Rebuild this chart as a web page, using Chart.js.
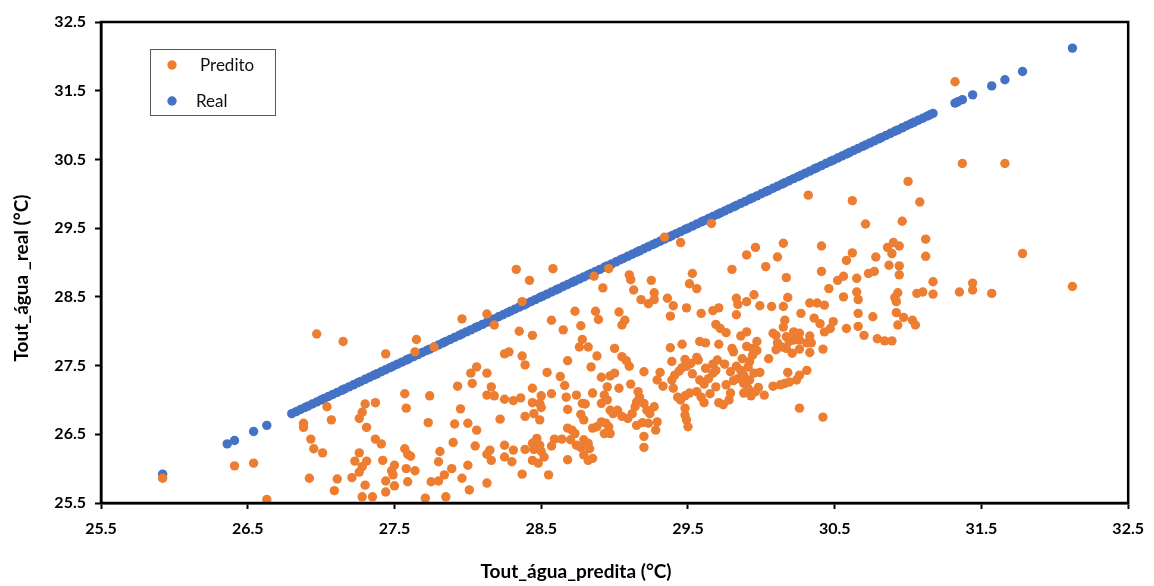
<!DOCTYPE html>
<html>
<head>
<meta charset="utf-8">
<script src="https://cdn.jsdelivr.net/npm/chart.js@4.4.1/dist/chart.umd.min.js"></script>
<style>
  html, body { margin: 0; padding: 0; background: #fff; }
  #wrap { width: 1154px; height: 586px; }
</style>
</head>
<body>
<div id="wrap"><canvas id="scatterChart"></canvas></div>
<script>
// axis ticks (same on both axes)
const tickValues = [25.5, 26.5, 27.5, 28.5, 29.5, 30.5, 31.5, 32.5];
const xTitle = 'Tout_água_predita (°C)';
const yTitle = 'Tout_água _real (°C)';

// "Real" series sits on the diagonal (real vs real)
const realValues = [
  25.92, 26.36, 26.41, 26.54, 26.63,
  26.80, 26.83, 26.86, 26.89, 26.91, 26.94, 26.97, 27.00, 27.02, 27.05, 27.08, 27.11, 27.14, 27.16, 27.19,
  27.22, 27.25, 27.27, 27.30, 27.33, 27.36, 27.38, 27.41, 27.44, 27.47, 27.49, 27.52, 27.55, 27.58, 27.60,
  27.63, 27.66, 27.69, 27.72, 27.74, 27.77, 27.80, 27.83, 27.85, 27.88, 27.91, 27.94, 27.96, 27.99, 28.02,
  28.05, 28.07, 28.10, 28.13, 28.16, 28.18, 28.21, 28.24, 28.27, 28.29, 28.32, 28.35, 28.38, 28.40, 28.43,
  28.46, 28.49, 28.51, 28.54, 28.57, 28.60, 28.62, 28.65, 28.68, 28.71, 28.73, 28.76, 28.79, 28.82, 28.84,
  28.87, 28.90, 28.93, 28.95, 28.98, 29.01, 29.04, 29.06, 29.09, 29.12, 29.15, 29.17, 29.20, 29.23, 29.26,
  29.28, 29.31, 29.34, 29.37, 29.39, 29.42, 29.45, 29.48, 29.50, 29.53, 29.56, 29.59, 29.61, 29.64, 29.67,
  29.70, 29.72, 29.75, 29.78, 29.81, 29.83, 29.86, 29.89, 29.92, 29.94, 29.97, 30.00, 30.03, 30.05, 30.08,
  30.11, 30.14, 30.16, 30.19, 30.22, 30.25, 30.27, 30.30, 30.33, 30.36, 30.38, 30.41, 30.44, 30.47, 30.49,
  30.52, 30.55, 30.58, 30.60, 30.63, 30.66, 30.69, 30.71, 30.74, 30.77, 30.80, 30.82, 30.85, 30.88, 30.91,
  30.93, 30.96, 30.99, 31.02, 31.04, 31.07, 31.10, 31.13, 31.15, 31.17,
  31.32, 31.34, 31.37, 31.44, 31.57, 31.66, 31.78, 32.12
];

// "Predito" points [x, y]
const preditoPoints = [
  // left part
  [25.92,25.86],[26.41,26.04],[26.54,26.08],[26.63,25.55],[26.97,27.96],[27.15,27.85],[27.44,27.67],[27.04,26.90],
  [27.07,26.71],[26.88,26.66],[26.88,26.60],[26.93,26.43],[26.95,26.29],[27.01,26.23],[27.30,26.94],[27.37,26.96],
  [27.28,26.82],[27.26,26.73],[27.31,26.60],[27.37,26.43],[27.41,26.36],[27.26,26.23],[27.23,26.11],[27.31,26.11],
  [27.28,26.03],[27.26,25.95],[27.42,26.12],[26.92,25.86],[27.11,25.85],[27.21,25.87],[27.09,25.68],[27.30,25.76],
  [27.28,25.59],[27.35,25.59],
  // 27.5 - 28.6
  [28.33,28.90],[28.58,28.91],[28.42,28.74],[28.37,28.43],[27.96,28.18],[28.13,28.25],[28.18,28.09],[27.65,27.88],
  [27.64,27.70],[27.77,27.77],[28.35,28.00],[28.44,27.94],[28.57,28.16],[28.25,27.67],[28.28,27.70],[28.37,27.64],
  [28.39,27.51],[28.06,27.48],[28.02,27.39],[28.03,27.24],[28.13,27.39],[27.93,27.20],[28.16,27.19],[28.13,27.07],
  [28.18,27.06],[27.57,27.09],[27.58,26.88],[27.74,27.06],[27.95,26.87],[28.25,27.01],[28.31,26.99],[28.36,27.03],
  [28.44,26.96],[28.50,27.06],[28.49,26.95],[28.50,26.89],[28.54,27.40],[28.57,27.09],[28.44,27.17],[28.22,26.72],
  [27.73,26.67],[27.91,26.65],[28.00,26.66],[28.06,26.56],[28.39,26.76],[28.45,26.80],[28.49,26.71],[28.47,26.44],
  [28.49,26.34],[28.45,26.28],[28.50,26.25],[28.52,26.17],[28.44,26.12],[28.48,26.08],[28.39,26.28],[28.44,26.37],
  [28.25,26.34],[28.25,26.17],[28.30,26.10],[28.31,26.27],[28.15,26.27],[28.13,26.21],[28.16,26.12],[28.05,26.33],
  [27.90,26.38],[27.81,26.25],[27.80,26.10],[27.84,25.91],[27.89,26.00],[28.00,26.05],[27.96,25.86],[28.01,25.69],
  [27.57,26.29],[27.59,26.21],[27.61,26.18],[27.50,26.05],[27.48,25.97],[27.49,25.91],[27.58,26.00],[27.64,25.97],
  [27.59,25.81],[27.44,25.82],[27.44,25.66],[27.50,25.75],[27.75,25.81],[27.80,25.82],[27.71,25.57],[27.85,25.59],
  [28.13,25.79],[28.37,25.92],[28.55,25.91],[28.57,26.33],[28.59,26.43],
  // 28.6 - 29.2
  [28.86,28.80],[28.96,28.91],[28.92,28.63],[29.10,28.82],[29.11,28.75],[29.13,28.60],[29.18,28.46],[28.73,28.29],
  [28.87,28.29],[28.89,28.17],[29.03,28.28],[29.07,28.16],[29.05,28.09],[28.65,28.02],[28.77,28.08],[28.78,27.88],
  [28.76,27.77],[28.82,27.77],[28.68,27.57],[28.88,27.64],[29.00,27.75],[29.05,27.63],[29.08,27.57],[29.10,27.49],
  [28.84,27.48],[28.63,27.34],[28.66,27.21],[28.67,27.04],[28.68,26.86],[28.74,27.07],[28.78,26.95],[28.80,26.94],
  [28.77,26.79],[28.79,26.71],[28.85,27.10],[28.91,27.33],[28.97,27.35],[29.00,27.39],[28.95,27.19],[28.93,27.07],
  [28.95,27.00],[28.91,26.95],[28.97,26.85],[28.99,26.80],[29.03,27.17],[29.02,26.85],[29.05,26.76],[29.09,26.73],
  [29.12,26.80],[29.14,26.90],[29.11,27.23],[29.16,27.12],[29.15,26.97],[29.17,27.04],[29.20,27.41],[29.20,26.95],
  [29.15,26.63],[29.19,26.67],[28.85,26.59],[28.88,26.61],[28.91,26.68],[28.94,26.66],[28.96,26.61],[28.97,26.51],
  [28.93,26.51],[28.68,26.59],[28.71,26.56],[28.73,26.51],[28.70,26.42],[28.64,26.43],[28.74,26.34],[28.77,26.31],
  [28.79,26.42],[28.82,26.37],[28.83,26.29],[28.79,26.20],[28.82,26.12],[28.85,26.15],[28.68,26.13],
  // 29.2 - 30.8
  [29.22,26.85],[29.24,26.80],[29.27,26.90],[29.23,26.66],[29.29,26.68],[29.28,26.56],[29.20,26.47],[29.20,26.31],
  [29.29,27.29],[29.33,27.20],[29.31,27.40],[29.39,27.29],[29.41,27.36],[29.44,27.42],[29.46,27.47],[29.49,27.49],
  [29.52,27.53],[29.40,27.17],[29.43,27.04],[29.45,27.00],[29.48,27.06],[29.51,27.10],[29.48,26.88],[29.48,26.78],
  [29.49,26.71],[29.50,26.61],[29.53,27.38],[29.58,27.29],[29.61,27.23],[29.64,27.31],[29.67,27.39],[29.56,27.12],
  [29.59,27.04],[29.61,26.96],[29.65,27.09],[29.69,27.19],[29.71,26.96],[29.74,26.93],[29.78,27.00],[29.79,27.10],
  [29.76,27.22],[29.81,27.28],[29.84,27.31],[29.88,27.24],[29.91,27.17],[29.92,27.29],[29.95,27.39],[29.67,27.52],
  [29.75,27.52],[29.88,27.10],[29.96,27.12],
  [29.34,29.37],[29.45,29.29],[29.66,29.57],[30.32,29.98],[30.62,29.90],[30.15,29.28],[30.41,29.24],[29.96,29.22],
  [29.90,29.11],[30.11,29.08],[30.62,29.14],[30.58,29.03],[29.80,28.90],[30.03,28.94],[30.17,28.78],[30.41,28.87],
  [30.52,28.74],[30.56,28.80],[30.65,28.77],[30.73,28.84],[30.77,28.87],[29.53,28.84],[29.51,28.69],[29.56,28.62],
  [29.25,28.74],[29.27,28.56],[29.23,28.40],[29.27,28.46],[29.36,28.48],[29.40,28.37],[29.38,28.22],[29.49,28.34],
  [29.59,28.26],[29.67,28.30],[29.71,28.34],[29.83,28.48],[29.84,28.39],[29.90,28.43],[29.95,28.53],[29.83,28.24],
  [29.99,28.37],[30.07,28.36],[30.15,28.36],[30.18,28.49],[30.27,28.26],[30.33,28.41],[30.38,28.41],[30.43,28.38],
  [30.36,28.19],[30.40,28.11],[30.49,28.14],[30.47,28.04],[30.43,27.99],[30.58,28.04],[30.66,28.07],[30.66,28.26],
  [30.76,28.21],[30.70,27.94],[30.65,28.57],[30.66,28.46],[30.56,28.50],[30.46,28.62],
  [29.58,27.85],[29.62,27.83],[29.71,27.81],[29.80,27.75],[29.81,27.70],[29.90,27.78],[29.94,27.75],[29.97,27.72],
  [29.46,27.81],[29.38,27.76],[29.86,27.93],[29.90,27.99],[29.69,28.10],[29.72,28.04],[29.76,27.98],[30.08,27.97],
  [30.11,27.83],[30.14,27.77],[30.19,27.85],[30.26,27.87],[30.31,27.83],[30.34,27.83],[30.33,27.69],[30.10,27.94],
  [30.17,27.92],[30.22,27.87],[30.25,27.92],[30.33,27.93],[30.26,27.97],[30.10,27.73],[30.17,27.75],[30.21,27.68],
  [30.42,27.74],[29.94,27.65],[29.92,27.56],[29.87,27.60],[30.05,27.60],[29.86,27.43],[29.88,27.36],[29.93,27.06],
  [29.98,27.18],[30.02,27.07],[29.99,27.40],[30.08,27.20],[30.13,27.22],[30.16,27.24],[30.19,27.26],[30.24,27.29],
  [30.26,27.36],[30.18,27.40],[30.31,27.43],[30.26,26.88],[30.42,26.75],[29.39,27.56],[29.48,27.59],[29.56,27.62],
  [29.57,27.58],[29.62,27.46],[29.69,27.43],[29.70,27.58],[29.79,27.41],[29.83,27.49],[29.91,27.48],[29.97,27.85],
  [30.26,27.74],[30.16,28.16],[30.15,28.06],[30.22,27.99],[30.71,29.56],
  // right part
  [31.32,31.63],[31.37,30.44],[31.66,30.44],[31.00,30.18],[31.08,29.88],[30.96,29.60],[31.12,29.34],[31.12,29.09],
  [31.78,29.13],[32.12,28.65],[30.86,29.22],[30.90,29.29],[30.94,29.24],[30.89,29.13],[30.78,29.08],[30.87,28.96],
  [30.94,28.95],[30.94,28.82],[31.17,28.72],[31.17,28.54],[31.10,28.57],[31.06,28.55],[31.35,28.57],[31.44,28.70],
  [31.44,28.60],[31.57,28.55],[30.93,28.56],[30.91,28.49],[30.92,28.43],[30.92,28.27],[30.97,28.20],[31.03,28.16],
  [31.05,28.09],[30.93,28.09],[30.79,27.89],[30.84,27.86],[30.89,27.86]
];

const ORANGE = '#ED7D31';
const BLUE = '#4472C4';
const FONT = 'Lato';

// black box round the plot area
const plotFrame = {
  id: 'plotFrame',
  afterDatasetsDraw(chart) {
    const { ctx, chartArea: a } = chart;
    ctx.save();
    ctx.strokeStyle = '#000';
    ctx.lineWidth = 2.5;
    ctx.strokeRect(a.left, a.top, a.right - a.left, a.bottom - a.top);
    ctx.restore();
  }
};

// axis titles: the original sits a bit off centre, so draw them by hand
const axisTitles = {
  id: 'axisTitles',
  afterDraw(chart) {
    const { ctx } = chart;
    ctx.save();
    ctx.fillStyle = '#000';
    ctx.font = 'bold 19px ' + FONT;
    ctx.textAlign = 'center';
    ctx.textBaseline = 'middle';
    ctx.fillText(xTitle, 576, 572);
    ctx.translate(22, 278);
    ctx.rotate(-Math.PI / 2);
    ctx.fillText(yTitle, 0, 0);
    ctx.restore();
  }
};

// legend box inside the plot, top left
const boxLegend = {
  id: 'boxLegend',
  afterDraw(chart) {
    const { ctx, chartArea: a } = chart;
    const x0 = a.left + 49, y0 = a.top + 27, w = 125, h = 66;
    ctx.save();
    ctx.fillStyle = '#fff';
    ctx.fillRect(x0, y0, w, h);
    ctx.strokeStyle = '#595959';
    ctx.lineWidth = 1;
    ctx.strokeRect(x0 + 0.5, y0 + 0.5, w, h);
    chart.data.datasets.forEach((ds, i) => {
      const cy = y0 + 16 + i * 36;
      ctx.fillStyle = ds.backgroundColor;
      ctx.beginPath();
      ctx.arc(x0 + 22, cy, 4.7, 0, Math.PI * 2);
      ctx.fill();
      ctx.fillStyle = '#111';
      ctx.font = '17px ' + FONT;
      ctx.textBaseline = 'middle';
      ctx.fillText(ds.label, x0 + (i === 0 ? 50 : 46), cy + 1);
    });
    ctx.restore();
  }
};

function axisOptions(isX) {
  return {
    type: 'linear',
    min: 25.5,
    max: 32.5,
    afterBuildTicks: scale => { scale.ticks = tickValues.map(v => ({ value: v })); },
    afterFit: scale => {
      if (isX) scale.height = 83; else scale.width = 101;
    },
    ticks: {
      callback: v => v.toFixed(1),
      font: { family: FONT, weight: 'bold', size: 16 },
      color: '#000',
      padding: isX ? 10 : 9,
      maxRotation: 0,
      autoSkip: false
    },
    grid: { drawOnChartArea: false, drawTicks: true, tickLength: 6, tickWidth: 2, color: '#000' },
    border: { display: true, color: '#000', width: 2.5 },
    title: { display: false }
  };
}

const ctx = document.getElementById('scatterChart').getContext('2d');
new Chart(ctx, {
  type: 'scatter',
  data: {
    datasets: [
      {
        label: 'Predito',
        data: preditoPoints.map(p => ({ x: p[0], y: p[1] })),
        backgroundColor: ORANGE,
        borderWidth: 0,
        pointRadius: 4.7
      },
      {
        label: 'Real',
        data: realValues.map(v => ({ x: v, y: v })),
        backgroundColor: BLUE,
        borderWidth: 0,
        pointRadius: 4.7
      }
    ]
  },
  options: {
    responsive: true,
    maintainAspectRatio: false,
    animation: false,
    devicePixelRatio: 1,
    layout: { padding: { top: 22, right: 21, bottom: 0, left: 0 } },
    plugins: {
      legend: { display: false },
      tooltip: { enabled: false }
    },
    scales: {
      x: axisOptions(true),
      y: axisOptions(false)
    }
  },
  plugins: [plotFrame, axisTitles, boxLegend]
});
</script>
</body>
</html>
